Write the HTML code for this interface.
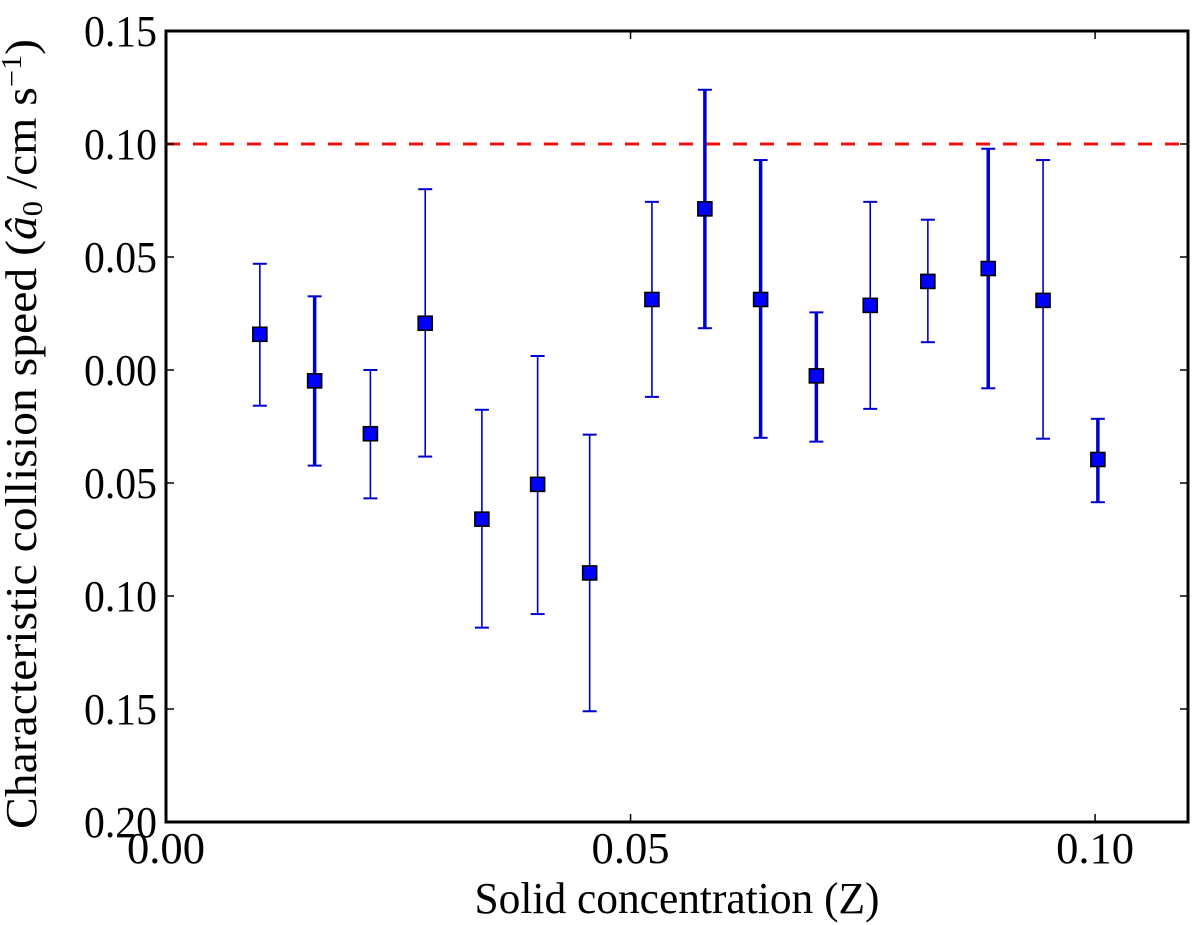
<!DOCTYPE html>
<html><head><meta charset="utf-8"><style>
html,body{margin:0;padding:0;background:#fff;}
svg{display:block;font-family:"Liberation Serif",serif;}
</style></head><body>
<svg id="chart" width="1200" height="925" viewBox="0 0 1200 925" xmlns="http://www.w3.org/2000/svg">
<g id="plot"></g>
<text x="677" y="913" font-size="44" text-anchor="middle" textLength="405" lengthAdjust="spacingAndGlyphs">Solid concentration (Z)</text>
<text transform="translate(36,434) rotate(-90)" font-size="44" text-anchor="middle" textLength="790" lengthAdjust="spacingAndGlyphs">Characteristic collision speed (<tspan font-style="italic">â</tspan><tspan font-size="28" dy="6">0</tspan><tspan dy="-6"> /cm s</tspan><tspan font-size="28" dy="-15">−1</tspan><tspan dy="15">)</tspan></text>
</svg>
<script>
const xs = [0.0101,0.016,0.022,0.0279,0.034,0.040,0.0456,0.0523,0.058,0.064,0.070,0.0758,0.0820,0.0885,0.0944,0.1003];
const ys = [0.0158,-0.0048,-0.0282,0.0207,-0.066,-0.0506,-0.0898,0.0312,0.0713,0.0312,-0.0026,0.0286,0.0392,0.0449,0.0308,-0.0396];
const yHi = [0.047,0.0326,0,0.080,-0.0176,0.0062,-0.0286,0.0744,0.124,0.0929,0.0255,0.0744,0.0665,0.0979,0.0929,-0.0216];
const yLo = [-0.0158,-0.0423,-0.0568,-0.0383,-0.114,-0.108,-0.151,-0.0119,0.0185,-0.030,-0.0317,-0.0172,0.0123,-0.0081,-0.0304,-0.0585];
const thick = [0,1,0,0,0,0,0,0,1,1,1,0,0,1,0,1];
const xTicks = [0.00,0.05,0.10];
const xTickLabels = ["0.00","0.05","0.10"];
const yTicks = [0.15,0.10,0.05,0.00,-0.05,-0.10,-0.15,-0.20];
const yTickLabels = ["0.15","0.10","0.05","0.00","0.05","0.10","0.15","0.20"];
const refLine = 0.10;

const L=166,R=1188,T=31,B=822, xmin=0,xmax=0.11,ymin=-0.20,ymax=0.15;
const X=v=>L+(v-xmin)/(xmax-xmin)*(R-L);
const Y=v=>B-(v-ymin)/(ymax-ymin)*(B-T);
const NS="http://www.w3.org/2000/svg";
const g=document.getElementById('plot');
function mk(t,a){const e=document.createElementNS(NS,t);for(const k in a)e.setAttribute(k,a[k]);g.appendChild(e);return e;}

const rl=mk('line',{x1:L,x2:R,y1:Y(refLine),y2:Y(refLine),stroke:'#ee1111','stroke-width':3,'stroke-dasharray':'14 13'});



xs.forEach((x,i)=>{
  const w=thick[i]?3.5:1.6, cx=X(x);
  const eb=mk('line',{x1:cx,x2:cx,y1:Y(yHi[i]),y2:Y(yLo[i]),stroke:'#0000cc','stroke-width':w});
  
  
  [yHi[i],yLo[i]].forEach(v=>{
    const c=mk('line',{x1:cx-7,x2:cx+7,y1:Y(v),y2:Y(v),stroke:'#0000cc','stroke-width':2});
    
    
  });
  const m=mk('rect',{x:cx-7,y:Y(ys[i])-7,width:14,height:14,fill:'#0000ff',stroke:'#000','stroke-width':1.6});
  
  
});

const fr=mk('rect',{x:L,y:T,width:R-L,height:B-T,fill:'none',stroke:'#000','stroke-width':3});



yTicks.forEach((v,i)=>{
  const t=mk('line',{x1:L,x2:L+8,y1:Y(v),y2:Y(v),stroke:'#000','stroke-width':1.5});
  
  
  const t2=mk('line',{x1:R-8,x2:R,y1:Y(v),y2:Y(v),stroke:'#000','stroke-width':1.5});
  
  
  const lb=mk('text',{x:157,y:Y(v)+15,'font-size':44,'text-anchor':'end',textLength:73,lengthAdjust:'spacingAndGlyphs'});
  lb.textContent=yTickLabels[i];
  
  
});
xTicks.forEach((v,i)=>{
  const t=mk('line',{x1:X(v),x2:X(v),y1:B,y2:B-8,stroke:'#000','stroke-width':1.5});
  
  
  const t2=mk('line',{x1:X(v),x2:X(v),y1:T,y2:T+8,stroke:'#000','stroke-width':1.5});
  
  
  const lb=mk('text',{x:X(v),y:863,'font-size':44,'text-anchor':'middle',textLength:78,lengthAdjust:'spacingAndGlyphs'});
  lb.textContent=xTickLabels[i];
  
  
});
</script>
</body></html>
